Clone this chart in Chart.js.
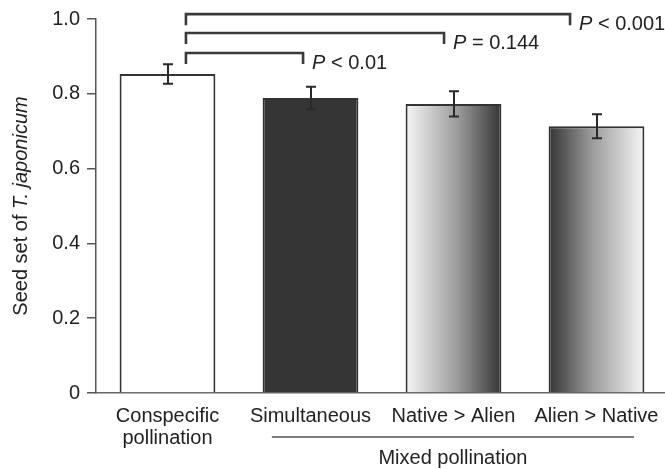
<!DOCTYPE html>
<html><head><meta charset="utf-8">
<script src="https://cdn.jsdelivr.net/npm/chart.js@4.4.0/dist/chart.umd.min.js"></script>
<style>html,body{margin:0;padding:0;overflow:hidden;background:#fff;width:665px;height:469px}canvas{display:block}</style>
</head><body><canvas id="c" width="668" height="469"></canvas>
<script>
const categories = [['Conspecific', 'pollination'], 'Simultaneous', 'Native > Alien', 'Alien > Native'];
const seedSet = [0.853, 0.789, 0.773, 0.713];
const seedSetErr = [0.026, 0.030, 0.034, 0.032];
const yTickLabels = ['0', '0.2', '0.4', '0.6', '0.8', '1.0'];
const comparisonTo = [1, 2, 3];
const comparisonSign = ['<', '=', '<'];
const comparisonP = ['0.01', '0.144', '0.001'];
const groupLabel = 'Mixed pollination';
const groupMembers = [1, 2, 3];
const yTitleParts = ['Seed set of ', 'T. japonicum'];

const FONT = '"Liberation Sans", Arial, Helvetica, sans-serif';
const TEXT = '#222';

// bracket geometry (layout only)
const bracketLevel = [0.909, 0.9626, 1.013];
const bracketLeftShift = 0.129;
const bracketRightShift = [-0.052, -0.066, -0.185];
const bracketLeg = 11;

function barFill(ctx) {
  const i = ctx.dataIndex;
  const chart = ctx.chart;
  const xs = chart.scales.x;
  if (!chart.chartArea || !xs) return '#888';
  if (i === 0) return '#ffffff';
  if (i === 1) return '#353535';
  const cx = xs.getPixelForValue(i);
  const half = xs.width / categories.length * 0.67 / 2;
  const g = chart.ctx.createLinearGradient(cx - half, 0, cx + half, 0);
  const light = '#f6f6f6', mid = '#9a9a9b', dark = '#353535';
  if (i === 2) { g.addColorStop(0, light); g.addColorStop(0.55, mid); g.addColorStop(1, dark); }
  else { g.addColorStop(0, dark); g.addColorStop(0.45, mid); g.addColorStop(1, light); }
  return g;
}

const annot = {
  id: 'annot',
  afterDraw(chart) {
    const { ctx, scales: { x, y }, chartArea } = chart;
    ctx.save();
    // error bars
    ctx.strokeStyle = '#2a2a2a';
    ctx.lineWidth = 2;
    seedSet.forEach((v, i) => {
      const px = Math.round(x.getPixelForValue(i));
      const t = y.getPixelForValue(v + seedSetErr[i]);
      const b = y.getPixelForValue(v - seedSetErr[i]);
      ctx.beginPath();
      ctx.moveTo(px, t); ctx.lineTo(px, b);
      ctx.moveTo(px - 5, t); ctx.lineTo(px + 5, t);
      ctx.moveTo(px - 5, b); ctx.lineTo(px + 5, b);
      ctx.stroke();
    });
    // brackets
    ctx.strokeStyle = '#3a3a3a';
    ctx.lineWidth = 2.6;
    ctx.lineJoin = 'miter';
    comparisonTo.forEach((to, k) => {
      const x0 = x.getPixelForValue(0 + bracketLeftShift);
      const x1 = x.getPixelForValue(to + bracketRightShift[k]);
      const yy = y.getPixelForValue(bracketLevel[k]);
      ctx.beginPath();
      ctx.moveTo(x0, yy + bracketLeg);
      ctx.lineTo(x0, yy);
      ctx.lineTo(x1, yy);
      ctx.lineTo(x1, yy + bracketLeg);
      ctx.stroke();
      // label
      ctx.fillStyle = TEXT;
      ctx.textBaseline = 'middle';
      ctx.textAlign = 'left';
      const ty = yy + bracketLeg - 1;
      let tx = x1 + 9;
      ctx.font = 'italic 20px ' + FONT;
      ctx.fillText('P', tx, ty);
      tx += ctx.measureText('P ').width;
      ctx.font = '20px ' + FONT;
      const s = comparisonSign[k] + ' ' + comparisonP[k];
      ctx.fillText(s, tx, ty);
    });
    // group line + label
    const gx0 = x.getPixelForValue(groupMembers[0] - 0.27);
    const gx1 = x.getPixelForValue(groupMembers[groupMembers.length - 1] + 0.262);
    const gy = chartArea.bottom + 44;
    ctx.strokeStyle = '#555';
    ctx.lineWidth = 1.5;
    ctx.beginPath();
    ctx.moveTo(gx0, gy); ctx.lineTo(gx1, gy);
    ctx.stroke();
    ctx.fillStyle = TEXT;
    ctx.font = '20px ' + FONT;
    ctx.textAlign = 'center';
    ctx.textBaseline = 'middle';
    ctx.fillText(groupLabel, (gx0 + gx1) / 2, chartArea.bottom + 65);
    // y title (mixed style)
    ctx.save();
    ctx.translate(21, (y.top + y.bottom) / 2);
    ctx.rotate(-Math.PI / 2);
    ctx.font = '20px ' + FONT;
    const w0 = ctx.measureText(yTitleParts[0]).width;
    ctx.font = 'italic 20px ' + FONT;
    const w1 = ctx.measureText(yTitleParts[1]).width;
    let sx = -(w0 + w1) / 2;
    ctx.textAlign = 'left';
    ctx.textBaseline = 'middle';
    ctx.font = '20px ' + FONT;
    ctx.fillText(yTitleParts[0], sx, 0);
    ctx.font = 'italic 20px ' + FONT;
    ctx.fillText(yTitleParts[1], sx + w0, 0);
    ctx.restore();
    ctx.restore();
  }
};

new Chart(document.getElementById('c'), {
  type: 'bar',
  data: {
    labels: categories,
    datasets: [{
      data: seedSet,
      backgroundColor: barFill,
      borderColor: '#333',
      borderWidth: 2,
      barPercentage: 0.67,
      categoryPercentage: 1.0
    }]
  },
  options: {
    responsive: false,
    animation: false,
    devicePixelRatio: 1,
    layout: { padding: { top: 8, left: 0, right: 0, bottom: 0 } },
    plugins: { legend: { display: false }, tooltip: { enabled: false } },
    scales: {
      x: {
        grid: { display: false },
        border: { display: true, color: '#666', width: 1.5 },
        ticks: { color: TEXT, font: { family: FONT, size: 20, lineHeight: 1.1 }, padding: 4, maxRotation: 0, autoSkip: false },
        afterFit(s) { s.height = 76; }
      },
      y: {
        min: 0, max: 1,
        grid: { drawOnChartArea: false, drawTicks: true, tickLength: 9, color: '#555', lineWidth: 1.5 },
        border: { display: true, color: '#555', width: 1.5 },
        ticks: {
          stepSize: 0.2, color: TEXT, padding: 7,
          font: { family: FONT, size: 20 },
          callback: (v, i) => yTickLabels[i]
        },
        afterFit(s) { s.width = 96; }
      }
    }
  },
  plugins: [annot]
});
</script>
</body></html>
